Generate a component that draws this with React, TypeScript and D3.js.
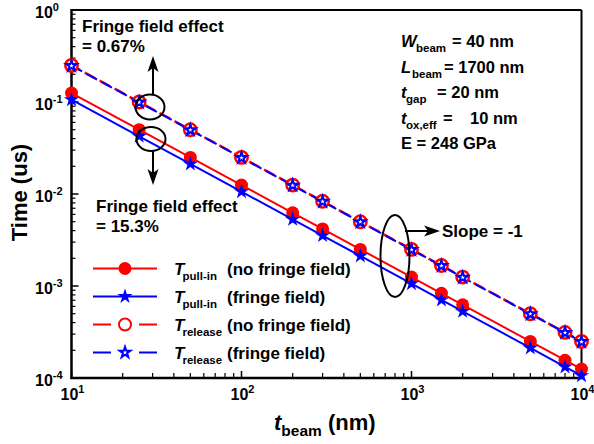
import React from 'react';
import * as d3 from 'd3';

const tBeam = [10, 25, 50, 100, 200, 300, 500, 1000, 1500, 2000, 5000, 8000, 10000];
const pullInNoFringe = [0.125, 0.05, 0.025, 0.0125, 0.00625, 0.00417, 0.0025, 0.00125, 0.000833, 0.000625, 0.00025, 0.000156, 0.000125];
const pullInFringe = [0.106, 0.0424, 0.0212, 0.0106, 0.0053, 0.00353, 0.00212, 0.00106, 0.000706, 0.00053, 0.000212, 0.000132, 0.000106];
const releaseNoFringe = [0.25, 0.1, 0.05, 0.025, 0.0125, 0.00833, 0.005, 0.0025, 0.00167, 0.00125, 0.0005, 0.000313, 0.00025];
const releaseFringe = [0.248, 0.0993, 0.0497, 0.0248, 0.0124, 0.00828, 0.00497, 0.00248, 0.00166, 0.00124, 0.000497, 0.000311, 0.000248];

const yTickExps = [0, -1, -2, -3, -4];
const xTickExps = [1, 2, 3, 4];

const legendLabels = [
  { sub: 'pull-in', rest: '(no fringe field)' },
  { sub: 'pull-in', rest: '(fringe field)' },
  { sub: 'release', rest: '(no fringe field)' },
  { sub: 'release', rest: '(fringe field)' },
];

const FONT = 'Arial, "Liberation Sans", sans-serif';
const RED = '#ff0000';
const BLUE = '#0000ff';

export default function App() {
  const W = 594, H = 444;
  const x = d3.scaleLog().domain([10, 1e4]).range([71.5, 581.5]);
  const y = d3.scaleLog().domain([1e-4, 1]).range([378, 10]);
  const line = d3.line<[number, number]>().x(d => x(d[0])).y(d => y(d[1]));
  const pts = (vals: number[]) => tBeam.map((t, i) => [t, vals[i]] as [number, number]);

  const starFilled = d3.symbol().type(d3.symbolStar).size(72)()!;
  const starOpen = d3.symbol().type(d3.symbolStar).size(36)()!;

  const xMinor: number[] = [];
  for (let e = 1; e < 4; e++) for (let k = 2; k <= 9; k++) xMinor.push(k * Math.pow(10, e));
  const yMinor: number[] = [];
  for (let e = -4; e < 0; e++) for (let k = 2; k <= 9; k++) yMinor.push(k * Math.pow(10, e));

  const x0 = x.range()[0], x1 = x.range()[1];
  const y0 = y.range()[0], y1 = y.range()[1];

  const arrow = (tx: number, ty: number, dir: 'up' | 'down' | 'right') => {
    const L = 16, w = 5.5, n = 12;
    let p: [number, number][];
    if (dir === 'up') p = [[tx, ty], [tx + w, ty + L], [tx, ty + n], [tx - w, ty + L]];
    else if (dir === 'down') p = [[tx, ty], [tx + w, ty - L], [tx, ty - n], [tx - w, ty - L]];
    else p = [[tx, ty], [tx - L, ty - w], [tx - n, ty], [tx - L, ty + w]];
    return 'M' + p.map(q => q.join(',')).join('L') + 'Z';
  };

  const legRows = [268.5, 296.5, 324.5, 352.5];

  return (
    <svg width={W} height={H} style={{ position: 'absolute', left: 0, top: 0, background: '#fff' }} fontFamily={FONT}>
      <rect x={0} y={0} width={W} height={H} fill="#fff" />

      {/* ticks */}
      {yTickExps.map(e => (
        <line key={'ym' + e} x1={x0} x2={x0 + 7} y1={y(Math.pow(10, e))} y2={y(Math.pow(10, e))} stroke="#000" strokeWidth={1.5} />
      ))}
      {yMinor.map((v, i) => (
        <line key={'yn' + i} x1={x0} x2={x0 + 4} y1={y(v)} y2={y(v)} stroke="#000" strokeWidth={1.2} />
      ))}
      {xTickExps.map(e => (
        <line key={'xm' + e} x1={x(Math.pow(10, e))} x2={x(Math.pow(10, e))} y1={y0} y2={y0 - 7} stroke="#000" strokeWidth={1.5} />
      ))}
      {xMinor.map((v, i) => (
        <line key={'xn' + i} x1={x(v)} x2={x(v)} y1={y0} y2={y0 - 5} stroke="#000" strokeWidth={1.2} />
      ))}

      {/* frame */}
      <line x1={x0} x2={x1} y1={y1} y2={y1} stroke="#000" strokeWidth={2} />
      <line x1={x1} x2={x1} y1={y1} y2={y0} stroke="#000" strokeWidth={2} />
      <line x1={x0} x2={x0} y1={y1 - 1} y2={y0 + 1} stroke="#000" strokeWidth={2.5} />
      <line x1={x0 - 1} x2={x1 + 1} y1={y0} y2={y0} stroke="#000" strokeWidth={2.5} />

      {/* tick labels */}
      {yTickExps.map(e => (
        <text key={'yl' + e} x={35} y={y(Math.pow(10, e)) + 8} fontSize={16} fontWeight="bold">
          10<tspan dy={-7} fontSize={11}>{String(e)}</tspan>
        </text>
      ))}
      {xTickExps.map(e => (
        <text key={'xl' + e} x={x(Math.pow(10, e)) + 1} y={400} fontSize={16} fontWeight="bold" textAnchor="middle">
          10<tspan dy={-7} fontSize={11}>{String(e)}</tspan>
        </text>
      ))}

      {/* axis titles */}
      <text transform="translate(26.5,192.5) rotate(-90)" fontSize={22} fontWeight="bold" textAnchor="middle">Time (us)</text>
      <text x={274} y={430} fontSize={22} fontWeight="bold">
        <tspan fontStyle="italic">t</tspan>
        <tspan fontSize={15.5} dy={6}>beam</tspan>
        <tspan dy={-6}> (nm)</tspan>
      </text>

      {/* pull-in, no fringe field */}
      <path d={line(pts(pullInNoFringe))!} fill="none" stroke={RED} strokeWidth={2} />
      {pts(pullInNoFringe).map((p, i) => (
        <circle key={'a' + i} cx={x(p[0])} cy={y(p[1])} r={6.5} fill={RED} />
      ))}
      {/* pull-in, fringe field */}
      <path d={line(pts(pullInFringe))!} fill="none" stroke={BLUE} strokeWidth={2} />
      {pts(pullInFringe).map((p, i) => (
        <path key={'b' + i} d={starFilled} transform={`translate(${x(p[0])},${y(p[1])})`} fill={BLUE} />
      ))}
      {/* release lines */}
      <path d={line(pts(releaseNoFringe))!} fill="none" stroke={RED} strokeWidth={2.5} strokeDasharray="12,5" strokeDashoffset={2} />
      <path d={line(pts(releaseFringe))!} fill="none" stroke={BLUE} strokeWidth={2} strokeDasharray="12,5" />
      {pts(releaseNoFringe).map((p, i) => (
        <circle key={'c' + i} cx={x(p[0])} cy={y(p[1])} r={6.2} fill="#fff" stroke={RED} strokeWidth={2.5} />
      ))}
      {pts(releaseFringe).map((p, i) => (
        <path key={'d' + i} d={starOpen} transform={`translate(${x(p[0])},${y(p[1])})`} fill="#fff" stroke={BLUE} strokeWidth={2} />
      ))}

      {/* annotations */}
      <ellipse cx={150} cy={107} rx={14.5} ry={12.5} fill="none" stroke="#000" strokeWidth={2} />
      <ellipse cx={151} cy={139} rx={14.5} ry={12} fill="none" stroke="#000" strokeWidth={2} />
      <line x1={153} x2={153} y1={94.5} y2={68} stroke="#000" strokeWidth={2} />
      <path d={arrow(153, 56, 'up')} fill="#000" />
      <line x1={153} x2={153} y1={151} y2={173} stroke="#000" strokeWidth={2} />
      <path d={arrow(153, 185, 'down')} fill="#000" />
      <ellipse cx={395} cy={256} rx={14.5} ry={41} fill="none" stroke="#000" strokeWidth={2} />
      <line x1={405} x2={428} y1={231} y2={231} stroke="#000" strokeWidth={2} />
      <path d={arrow(440, 231, 'right')} fill="#000" />

      <g fontSize={17} fontWeight="bold">
        <text x={82} y={32}>Fringe field effect</text>
        <text x={82} y={52}>= 0.67%</text>
        <text x={96} y={212}>Fringe field effect</text>
        <text x={96} y={232}>= 15.3%</text>
        <text x={442} y={237}>Slope = -1</text>
      </g>

      {/* parameters */}
      <g fontSize={16.5} fontWeight="bold">
        <text y={47}>
          <tspan x={401} fontStyle="italic">W</tspan>
          <tspan x={416} dy={5} fontSize={11.5}>beam</tspan>
          <tspan x={452} dy={-5}>= 40 nm</tspan>
        </text>
        <text y={72.5}>
          <tspan x={401} fontStyle="italic">L</tspan>
          <tspan x={412} dy={5} fontSize={11.5}>beam</tspan>
          <tspan x={444} dy={-5}>= 1700 nm</tspan>
        </text>
        <text y={98}>
          <tspan x={401} fontStyle="italic">t</tspan>
          <tspan x={406} dy={5} fontSize={11.5}>gap</tspan>
          <tspan x={437} dy={-5}>= 20 nm</tspan>
        </text>
        <text y={123.5}>
          <tspan x={401} fontStyle="italic">t</tspan>
          <tspan x={406} dy={5} fontSize={11.5}>ox,eff</tspan>
          <tspan x={443} dy={-5}>=</tspan>
          <tspan x={470}>10 nm</tspan>
        </text>
        <text x={401} y={149}>E = 248 GPa</text>
      </g>

      {/* legend */}
      {legRows.map((ly, i) => {
        const dashed = i >= 2;
        const col = i % 2 === 0 ? RED : BLUE;
        return (
          <g key={'leg' + i}>
            {dashed ? (
              <g stroke={col} strokeWidth={2}>
                <line x1={93} x2={111} y1={ly} y2={ly} />
                <line x1={139} x2={157} y1={ly} y2={ly} />
              </g>
            ) : (
              <line x1={93} x2={157} y1={ly} y2={ly} stroke={col} strokeWidth={2} />
            )}
            {i === 0 && <circle cx={125} cy={ly} r={6.5} fill={RED} />}
            {i === 1 && <path d={starFilled} transform={`translate(125,${ly})`} fill={BLUE} />}
            {i === 2 && <circle cx={125} cy={ly} r={6} fill="#fff" stroke={RED} strokeWidth={2} />}
            {i === 3 && <path d={starOpen} transform={`translate(125,${ly})`} fill="#fff" stroke={BLUE} strokeWidth={2} />}
            <text y={ly + 6} fontSize={17} fontWeight="bold">
              <tspan x={174} fontStyle="italic">T</tspan>
              <tspan x={182.5} dy={5} fontSize={11.5}>{legendLabels[i].sub}</tspan>
              <tspan x={227} dy={-5}>{legendLabels[i].rest}</tspan>
            </text>
          </g>
        );
      })}
    </svg>
  );
}
